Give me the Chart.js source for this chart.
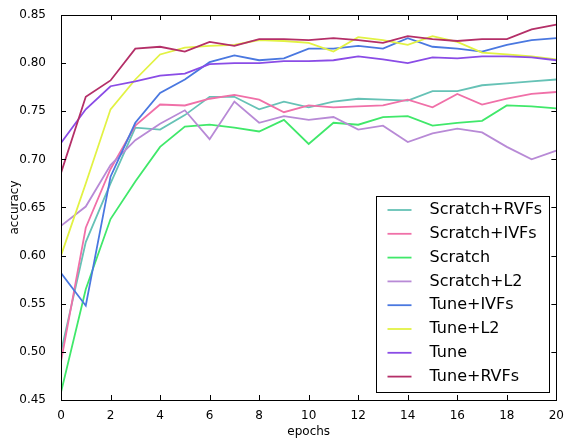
<!DOCTYPE html>
<html>
<head>
<meta charset="utf-8">
<script src="https://cdn.jsdelivr.net/npm/chart.js@4.4.0/dist/chart.umd.min.js"></script>
<style>
  body { margin: 0; background: #fff; }
</style>
</head>
<body>
<canvas id="myChart" width="565" height="438"></canvas>
<script>
var epochs = [0, 1, 2, 3, 4, 5, 6, 7, 8, 9, 10, 11, 12, 13, 14, 15, 16, 17, 18, 19, 20];

var scratchRVFs = [0.500, 0.614, 0.675, 0.733, 0.731, 0.746, 0.765, 0.765, 0.752, 0.760, 0.754, 0.760, 0.763, 0.762, 0.761, 0.771, 0.771, 0.777, 0.779, 0.781, 0.783];
var scratchIVFs = [0.490, 0.629, 0.690, 0.735, 0.757, 0.756, 0.763, 0.767, 0.762, 0.749, 0.756, 0.754, 0.755, 0.756, 0.762, 0.754, 0.768, 0.757, 0.763, 0.768, 0.770];
var scratch     = [0.458, 0.565, 0.638, 0.677, 0.713, 0.734, 0.736, 0.733, 0.729, 0.741, 0.716, 0.738, 0.736, 0.744, 0.745, 0.735, 0.738, 0.740, 0.756, 0.755, 0.753];
var scratchL2   = [0.631, 0.651, 0.694, 0.720, 0.737, 0.751, 0.721, 0.760, 0.738, 0.745, 0.741, 0.744, 0.731, 0.735, 0.718, 0.727, 0.732, 0.728, 0.713, 0.700, 0.709];
var tuneIVFs    = [0.582, 0.548, 0.682, 0.738, 0.769, 0.783, 0.801, 0.808, 0.803, 0.805, 0.815, 0.815, 0.818, 0.815, 0.826, 0.817, 0.815, 0.812, 0.819, 0.824, 0.826];
var tuneL2      = [0.600, 0.675, 0.752, 0.783, 0.809, 0.816, 0.818, 0.819, 0.824, 0.823, 0.821, 0.812, 0.827, 0.824, 0.819, 0.828, 0.822, 0.811, 0.809, 0.807, 0.804];
var tune        = [0.717, 0.752, 0.776, 0.781, 0.787, 0.789, 0.799, 0.800, 0.800, 0.802, 0.802, 0.803, 0.807, 0.804, 0.800, 0.806, 0.805, 0.807, 0.807, 0.806, 0.803];
var tuneRVFs    = [0.686, 0.765, 0.782, 0.815, 0.817, 0.812, 0.822, 0.818, 0.825, 0.825, 0.824, 0.826, 0.824, 0.821, 0.828, 0.825, 0.823, 0.825, 0.825, 0.835, 0.840];

var seriesNames = ["Scratch+RVFs", "Scratch+IVFs", "Scratch", "Scratch+L2", "Tune+IVFs", "Tune+L2", "Tune", "Tune+RVFs"];
var seriesValues = [scratchRVFs, scratchIVFs, scratch, scratchL2, tuneIVFs, tuneL2, tune, tuneRVFs];
var seriesColors = ["#66c2b6", "#f070a8", "#40e86a", "#b88ad6", "#4a78e0", "#e2f244", "#8a4ce6", "#b42f68"];

var xTicks = [0, 2, 4, 6, 8, 10, 12, 14, 16, 18, 20];
var yTicks = [0.45, 0.50, 0.55, 0.60, 0.65, 0.70, 0.75, 0.80, 0.85];

var FONT = "'DejaVu Sans', 'Liberation Sans', sans-serif";

function makeDataset(i) {
  var values = seriesValues[i];
  return {
    label: seriesNames[i],
    data: epochs.map(function(e, j) { return {x: e, y: values[j]}; }),
    borderColor: seriesColors[i],
    backgroundColor: seriesColors[i],
    borderWidth: 1.8,
    pointRadius: 0,
    tension: 0,
    fill: false,
    order: seriesNames.length - i
  };
}

// matplotlib style box with inward ticks on all four sides
var framePlugin = {
  id: 'frame',
  afterDatasetsDraw: function(chart) {
    var ctx = chart.ctx, a = chart.chartArea;
    var xs = chart.scales.x, ys = chart.scales.y;
    var len = 5;
    ctx.save();
    ctx.strokeStyle = '#000';
    ctx.lineWidth = 1;
    ctx.beginPath();
    xTicks.forEach(function(v) {
      var px = Math.round(xs.getPixelForValue(v)) + 0.5;
      ctx.moveTo(px, a.bottom); ctx.lineTo(px, a.bottom - len);
      ctx.moveTo(px, a.top); ctx.lineTo(px, a.top + len);
    });
    yTicks.forEach(function(v) {
      var py = Math.round(ys.getPixelForValue(v)) + 0.5;
      ctx.moveTo(a.left, py); ctx.lineTo(a.left + len, py);
      ctx.moveTo(a.right, py); ctx.lineTo(a.right - len, py);
    });
    ctx.stroke();
    ctx.strokeRect(Math.round(a.left) + 0.5, Math.round(a.top) + 0.5,
      Math.round(a.right - a.left), Math.round(a.bottom - a.top));
    ctx.restore();
  }
};

var legendPlugin = {
  id: 'boxLegend',
  afterDraw: function(chart) {
    var ctx = chart.ctx, a = chart.chartArea;
    var x0 = Math.round(a.right) - 180 + 0.5, y0 = 196.5;
    var w = 173, h = 196, step = 23.8;
    ctx.save();
    ctx.fillStyle = '#fff';
    ctx.fillRect(x0, y0, w, h);
    ctx.strokeStyle = '#000';
    ctx.lineWidth = 1;
    ctx.strokeRect(x0, y0, w, h);
    ctx.font = '16px ' + FONT;
    ctx.textBaseline = 'middle';
    ctx.textAlign = 'left';
    chart.data.datasets.forEach(function(ds, i) {
      var cy = y0 + 13.5 + i * step;
      ctx.strokeStyle = ds.borderColor;
      ctx.lineWidth = 1.8;
      ctx.beginPath();
      ctx.moveTo(x0 + 11, cy);
      ctx.lineTo(x0 + 35, cy);
      ctx.stroke();
      ctx.fillStyle = '#000';
      ctx.fillText(ds.label, x0 + 53, cy);
    });
    ctx.restore();
  }
};

var config = {
  type: 'line',
  data: {
    datasets: seriesNames.map(function(n, i) { return makeDataset(i); })
  },
  options: {
    responsive: false,
    animation: false,
    devicePixelRatio: 1,
    layout: { padding: { top: 15, right: 8, left: 0, bottom: 0 } },
    plugins: {
      legend: { display: false },
      tooltip: { enabled: false }
    },
    scales: {
      x: {
        type: 'linear',
        min: 0,
        max: 20,
        afterBuildTicks: function(scale) {
          scale.ticks = xTicks.map(function(v) { return {value: v}; });
        },
        afterFit: function(scale) { scale.height = 38; },
        grid: { display: false },
        border: { display: false },
        ticks: {
          maxRotation: 0,
          autoSkip: false,
          padding: 1,
          color: '#000',
          font: { family: FONT, size: 12 },
          callback: function(v) { return String(v); }
        },
        title: {
          display: true,
          text: 'epochs',
          color: '#000',
          font: { family: FONT, size: 12, lineHeight: 1 },
          padding: { top: 0, bottom: 0 }
        }
      },
      y: {
        type: 'linear',
        min: 0.45,
        max: 0.85,
        afterBuildTicks: function(scale) {
          scale.ticks = yTicks.map(function(v) { return {value: v}; });
        },
        afterFit: function(scale) { scale.width = 61; },
        grid: { display: false },
        border: { display: false },
        ticks: {
          autoSkip: false,
          padding: 7,
          color: '#000',
          font: { family: FONT, size: 12 },
          callback: function(v) { return v.toFixed(2); }
        },
        title: {
          display: true,
          text: 'accuracy',
          color: '#000',
          font: { family: FONT, size: 12 },
          padding: { top: 8, bottom: 0 }
        }
      }
    }
  },
  plugins: [framePlugin, legendPlugin]
};

var ctx = document.getElementById("myChart").getContext("2d");
var myChart = new Chart(ctx, config);
</script>
</body>
</html>
